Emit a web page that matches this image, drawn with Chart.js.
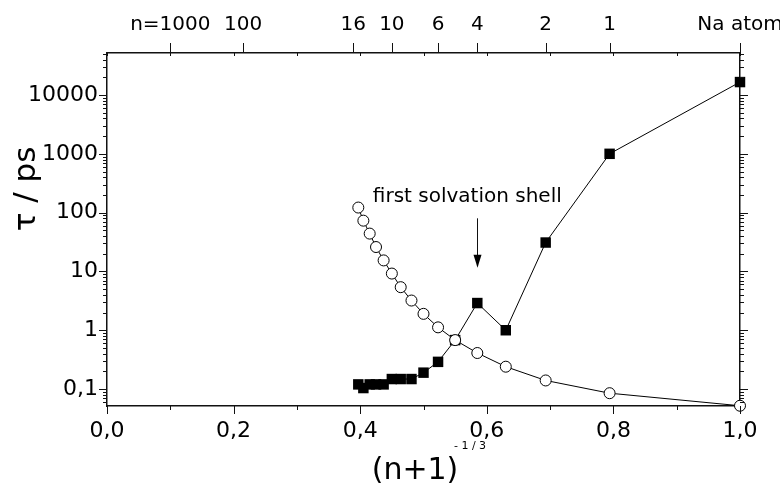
<!DOCTYPE html>
<html>
<head>
<meta charset="utf-8">
<title>tau vs (n+1)^-1/3</title>
<script src="https://cdn.jsdelivr.net/npm/chart.js@4.4.1/dist/chart.umd.min.js"></script>
<style>
  html, body { margin: 0; padding: 0; background: #fff; }
  #wrap { width: 780px; height: 486px; }
</style>
</head>
<body>
<div id="wrap"><canvas id="c" width="780" height="486"></canvas></div>
<script>
// x = (n+1)^(-1/3), n = 15 ... 1, then the Na atom (n = 0)
const xPos = [0.397, 0.405, 0.415, 0.425, 0.437, 0.450, 0.464, 0.481, 0.500, 0.523, 0.550, 0.585, 0.630, 0.693, 0.794, 1.000];
// filled squares
const tauSquares = [0.12, 0.104, 0.12, 0.12, 0.12, 0.148, 0.148, 0.148, 0.19, 0.29, 0.68, 2.9, 1.0, 31, 1000, 16600];
// open circles
const tauCircles = [122, 73, 44, 26, 15.4, 9.2, 5.4, 3.2, 1.9, 1.12, 0.68, 0.41, 0.24, 0.14, 0.085, 0.052];

// bottom axis
const xTickValues = [0, 0.1, 0.2, 0.3, 0.4, 0.5, 0.6, 0.7, 0.8, 0.9, 1.0];
const xTickLabels = ['0,0', '', '0,2', '', '0,4', '', '0,6', '', '0,8', '', '1,0'];
// top axis (cluster size n)
const topTickPos = [0.100, 0.215, 0.389, 0.450, 0.523, 0.585, 0.693, 0.794, 1.000];
const topTickLabels = ['n=1000', '100', '16', '10', '6', '4', '2', '1', 'Na atom'];
// left axis
const yDecades = [0.1, 1, 10, 100, 1000, 10000];
const yDecadeLabels = ['0,1', '1', '10', '100', '1000', '10000'];
const yMin = 0.0515, yMax = 51800;

const FONT = 'DejaVu Sans';

// log ticks 2..9 inside each decade, kept between yMin and yMax
function logTicks() {
  const out = [];
  for (let e = -2; e <= 4; e++) {
    for (let m = 1; m <= 9; m++) {
      const v = +(m * Math.pow(10, e)).toPrecision(3);
      if (v >= yMin && v <= yMax) out.push({ value: v, major: m === 1 });
    }
  }
  return out;
}

// tick marks and the free texts
const axisDecor = {
  id: 'axisDecor',
  afterDraw(chart) {
    const { ctx, chartArea: a, scales } = chart;
    const sx = scales.x, sy = scales.y;
    ctx.save();
    ctx.strokeStyle = '#111';
    ctx.lineWidth = 1;
    ctx.beginPath();
    sx.ticks.forEach(t => {
      const px = Math.round(sx.getPixelForValue(t.value)) + 0.5;
      ctx.moveTo(px, a.bottom); ctx.lineTo(px, a.bottom + (t.major ? 8 : 4));
      ctx.moveTo(px, a.top); ctx.lineTo(px, a.top + 3);
    });
    scales.x2.ticks.forEach(t => {
      const px = Math.round(scales.x2.getPixelForValue(t.value)) + 0.5;
      ctx.moveTo(px, a.top); ctx.lineTo(px, a.top - 10);
    });
    sy.ticks.forEach(t => {
      const py = Math.round(sy.getPixelForValue(t.value)) + 0.5;
      const len = t.major ? 8 : 4;
      ctx.moveTo(a.left, py); ctx.lineTo(a.left - len, py);
      ctx.moveTo(a.right, py); ctx.lineTo(a.right + len, py);
    });
    ctx.stroke();

    // annotation + arrow
    ctx.fillStyle = '#000';
    ctx.font = '20px "' + FONT + '"';
    ctx.textAlign = 'left';
    ctx.textBaseline = 'alphabetic';
    ctx.fillText('first solvation shell', sx.getPixelForValue(0.42), sy.getPixelForValue(150));
    const ax = Math.round(sx.getPixelForValue(0.585)) + 0.5;
    const ay1 = sy.getPixelForValue(80), ay2 = sy.getPixelForValue(11.5);
    ctx.beginPath();
    ctx.moveTo(ax, ay1); ctx.lineTo(ax, ay2 - 10);
    ctx.stroke();
    ctx.beginPath();
    ctx.moveTo(ax - 4, ay2 - 13); ctx.lineTo(ax + 4, ay2 - 13); ctx.lineTo(ax, ay2);
    ctx.closePath(); ctx.fill();

    // axis titles
    ctx.font = '30px "' + FONT + '"';
    ctx.textAlign = 'center';
    ctx.textBaseline = 'middle';
    ctx.fillText('(n+1)', 415, 471);
    ctx.font = '11px "' + FONT + '"';
    ctx.fillText('- 1 / 3', 470, 446);
    ctx.translate(27, 189);
    ctx.rotate(-Math.PI / 2);
    ctx.font = '31px "' + FONT + '"';
    ctx.fillText('\u03c4 / ps', 0, 0);
    ctx.restore();
  }
};

const border = { display: true, color: '#111', width: 1.5 };
const noGrid = { display: false, drawTicks: false };

const pts = arr => xPos.map((x, i) => ({ x: x, y: arr[i] }));

new Chart(document.getElementById('c'), {
  type: 'scatter',
  data: {
    datasets: [
      {
        data: pts(tauCircles),
        showLine: true,
        borderColor: '#000',
        borderWidth: 1,
        pointStyle: 'circle',
        pointRadius: 5.5,
        pointBackgroundColor: '#fff',
        pointBorderColor: '#000',
        pointBorderWidth: 1,
        clip: false
      },
      {
        data: pts(tauSquares),
        showLine: true,
        borderColor: '#000',
        borderWidth: 1,
        pointStyle: 'rect',
        pointRadius: 7.4,
        pointBackgroundColor: '#000',
        pointBorderColor: '#000',
        pointBorderWidth: 0,
        clip: false
      }
    ]
  },
  options: {
    responsive: false,
    animation: false,
    devicePixelRatio: 1,
    layout: { padding: 0 },
    plugins: { legend: { display: false }, tooltip: { enabled: false } },
    scales: {
      x: {
        type: 'linear', position: 'bottom', min: 0, max: 1,
        grid: noGrid, border: border,
        afterBuildTicks: s => { s.ticks = xTickValues.map((v, i) => ({ value: v, major: xTickLabels[i] !== '' })); },
        ticks: { autoSkip: false, maxRotation: 0, padding: 12, color: '#000', font: { family: FONT, size: 22 },
          callback: (v, i) => xTickLabels[i] },
        afterFit: s => { s.height = 80; s.paddingLeft = 0; s.paddingRight = 0; }
      },
      x2: {
        type: 'linear', position: 'top', min: 0, max: 1,
        grid: noGrid, border: border,
        afterBuildTicks: s => { s.ticks = topTickPos.map(v => ({ value: v })); },
        ticks: { autoSkip: false, maxRotation: 0, padding: 16, color: '#000', font: { family: FONT, size: 20 },
          callback: (v, i) => topTickLabels[i] },
        afterFit: s => { s.height = 53; s.paddingLeft = 0; s.paddingRight = 0; }
      },
      y: {
        type: 'logarithmic', position: 'left', min: yMin, max: yMax,
        grid: noGrid, border: border,
        afterBuildTicks: s => { s.ticks = logTicks(); },
        ticks: { autoSkip: false, padding: 9, color: '#000', font: { family: FONT, size: 22 },
          callback: v => { const k = yDecades.indexOf(v); return k >= 0 ? yDecadeLabels[k] : ''; } },
        afterFit: s => { s.width = 107; s.paddingTop = 0; s.paddingBottom = 0; }
      },
      y2: {
        type: 'logarithmic', position: 'right', min: yMin, max: yMax,
        grid: noGrid, border: border,
        afterBuildTicks: s => { s.ticks = logTicks(); },
        ticks: { display: false },
        afterFit: s => { s.width = 40; s.paddingTop = 0; s.paddingBottom = 0; }
      }
    }
  },
  plugins: [axisDecor]
});
</script>
</body>
</html>
